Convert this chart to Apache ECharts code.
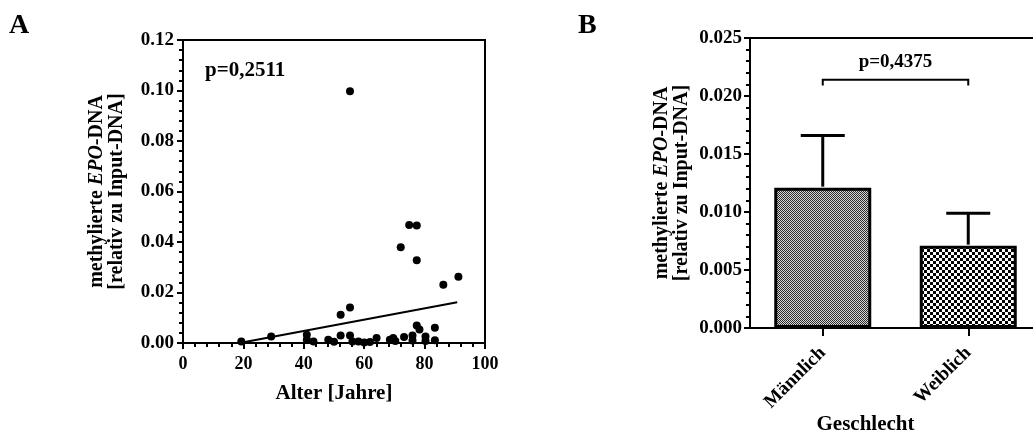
<!DOCTYPE html>
<html>
<head>
<meta charset="utf-8">
<script src="https://cdn.jsdelivr.net/npm/echarts@6/dist/echarts.min.js"></script>
<style>
  html, body { margin: 0; padding: 0; background: #fff; }
  #chart { width: 1033px; height: 441px; }
</style>
</head>
<body>
<div id="chart"></div>
<script>
// Panel A: age vs. methylated EPO-DNA (individual samples)
const ages = [19.3, 29.2, 41.0, 41.0, 43.2, 48.1, 50.0, 52.2, 52.2, 55.3, 55.3, 55.3,
  56.1, 58.1, 60.0, 61.9, 64.1, 68.5, 69.6, 70.3, 72.1, 73.2, 74.9, 76.0, 76.0,
  77.4, 77.4, 77.4, 78.3, 80.3, 80.3, 83.4, 83.4, 86.2, 91.2];
const methylA = [0.0006, 0.0026, 0.0033, 0.0013, 0.0006, 0.0013, 0.0005, 0.0030, 0.0112, 0.0141, 0.0997, 0.0030,
  0.0006, 0.0006, 0.0002, 0.0004, 0.0020, 0.0013, 0.0020, 0.0008, 0.0379, 0.0024, 0.0467, 0.0030, 0.0010,
  0.0465, 0.0328, 0.0069, 0.0053, 0.0026, 0.0008, 0.0060, 0.0011, 0.0231, 0.0262];
// linear regression line, endpoints [age, value]
const fitLine = [[19.6, 0.0002], [90.8, 0.0161]];
const pValueA = 'p=0,2511';

// Panel B: mean ± SEM by sex
const sexes = ['Männlich', 'Weiblich'];
const meanB = [0.0121, 0.0071];
const upperB = [0.0166, 0.0099];
const pValueB = 'p=0,4375';
const bracketB = [0.0214, 0.0209]; // bracket height, leg end
const pLabelB = 0.0229;

const FONT = '"Liberation Serif", "Times New Roman", serif';

function checker(cell, dark, light) {
  const c = document.createElement('canvas');
  c.width = cell * 2; c.height = cell * 2;
  const g = c.getContext('2d');
  g.fillStyle = light; g.fillRect(0, 0, cell * 2, cell * 2);
  g.fillStyle = dark;
  g.fillRect(0, 0, cell, cell);
  g.fillRect(cell, cell, cell, cell);
  return c;
}
const fineFill = { image: checker(1, '#2a2a2a', '#d8d8d8'), repeat: 'repeat' };
const coarseFill = { image: checker(3, '#000000', '#ffffff'), repeat: 'repeat' };

const axisLine = { lineStyle: { color: '#000', width: 2 } };
const labelStyle = { color: '#000', fontFamily: FONT, fontWeight: 'bold', fontSize: 19 };
const nameStyle = { color: '#000', fontFamily: FONT, fontWeight: 'bold', fontSize: 21 };
const yNameStyle = Object.assign({}, nameStyle, {
  fontSize: 20, lineHeight: 20,
  rich: { i: { fontFamily: FONT, fontStyle: 'italic', fontWeight: 'bold', fontSize: 20, color: '#000' } }
});

const chart = echarts.init(document.getElementById('chart'), null, { renderer: 'canvas' });

chart.setOption({
  backgroundColor: '#fff',
  animation: false,
  grid: [
    { left: 183, top: 40, width: 302, height: 303, outerBoundsMode: 'none', containLabel: false,
      show: true, borderColor: '#000', borderWidth: 2, backgroundColor: 'transparent' },
    { left: 750, top: 38, width: 291, height: 290, outerBoundsMode: 'none', containLabel: false,
      show: true, borderColor: '#000', borderWidth: 2, backgroundColor: 'transparent' }
  ],
  xAxis: [
    {
      gridIndex: 0, type: 'value', min: 0, max: 100, interval: 20,
      axisLine: axisLine,
      axisTick: { show: true, length: 6, lineStyle: { color: '#000', width: 2 } },
      minorTick: { show: true, splitNumber: 5, length: 4, lineStyle: { color: '#000', width: 2 } },
      splitLine: { show: false },
      axisLabel: Object.assign({ margin: 12 }, labelStyle, { fontSize: 18 }),
      name: 'Alter [Jahre]', nameLocation: 'middle', nameGap: 40, nameTextStyle: nameStyle
    },
    {
      gridIndex: 1, type: 'category', data: sexes,
      axisLine: axisLine,
      axisTick: { show: true, alignWithLabel: true, length: 8, lineStyle: { color: '#000', width: 2 } },
      axisLabel: Object.assign({ rotate: 45, interval: 0, margin: 22 }, labelStyle, { fontSize: 19 }),
      name: 'Geschlecht', nameLocation: 'middle', nameGap: 86, nameMoveOverlap: false,
      nameTextStyle: Object.assign({}, nameStyle, { align: 'center', padding: [0, 60, 0, 0] })
    }
  ],
  yAxis: [
    {
      gridIndex: 0, type: 'value', min: 0, max: 0.12, interval: 0.02,
      axisLine: axisLine,
      axisTick: { show: true, length: 6, lineStyle: { color: '#000', width: 2 } },
      minorTick: { show: true, splitNumber: 5, length: 4, lineStyle: { color: '#000', width: 2 } },
      splitLine: { show: false },
      axisLabel: Object.assign({ margin: 9, formatter: v => v.toFixed(2) }, labelStyle),
      name: 'methylierte {i|EPO}-DNA\n[relativ zu Input-DNA]',
      nameLocation: 'middle', nameGap: 56, nameRotate: 90,
      nameTextStyle: yNameStyle
    },
    {
      gridIndex: 1, type: 'value', min: 0, max: 0.025, interval: 0.005,
      axisLine: axisLine,
      axisTick: { show: true, length: 6, lineStyle: { color: '#000', width: 2 } },
      minorTick: { show: true, splitNumber: 5, length: 4, lineStyle: { color: '#000', width: 2 } },
      splitLine: { show: false },
      axisLabel: Object.assign({ margin: 8, formatter: v => v.toFixed(3) }, labelStyle),
      name: 'methylierte {i|EPO}-DNA\n[relativ zu Input-DNA]',
      nameLocation: 'middle', nameGap: 58, nameRotate: 90,
      nameTextStyle: yNameStyle
    }
  ],
  graphic: [
    { type: 'text', left: 9, top: 12, style: { text: 'A', font: 'bold 28px ' + FONT, fill: '#000' } },
    { type: 'text', left: 578, top: 12, style: { text: 'B', font: 'bold 28px ' + FONT, fill: '#000' } },
    { type: 'text', left: 205, top: 60, style: { text: pValueA, font: 'bold 21px ' + FONT, fill: '#000' } }
  ],
  series: [
    {
      type: 'scatter', xAxisIndex: 0, yAxisIndex: 0,
      data: ages.map((a, i) => [a, methylA[i]]),
      symbol: 'circle', symbolSize: 8,
      itemStyle: { color: '#000', opacity: 1 }, z: 3
    },
    {
      type: 'line', xAxisIndex: 0, yAxisIndex: 0,
      data: fitLine, symbol: 'none',
      lineStyle: { color: '#000', width: 2 }, z: 2
    },
    {
      type: 'bar', xAxisIndex: 1, yAxisIndex: 1,
      barWidth: 97,
      data: meanB.map((v, i) => ({
        value: v,
        itemStyle: { color: i === 0 ? fineFill : coarseFill, borderColor: '#000', borderWidth: 3 }
      }))
    },
    {
      // SEM error bars above each bar
      type: 'custom', xAxisIndex: 1, yAxisIndex: 1, z: 4,
      data: meanB.map((v, i) => [i, v, upperB[i]]),
      renderItem: (params, api) => {
        const base = api.coord([api.value(0), api.value(1)]);
        const top = api.coord([api.value(0), api.value(2)]);
        const half = 22;
        const st = { stroke: '#000', lineWidth: 3 };
        return {
          type: 'group', children: [
            { type: 'line', shape: { x1: base[0], y1: base[1] - 1, x2: top[0], y2: top[1] }, style: st },
            { type: 'line', shape: { x1: top[0] - half, y1: top[1], x2: top[0] + half, y2: top[1] }, style: st }
          ]
        };
      }
    },
    {
      // significance bracket between the two groups
      type: 'custom', xAxisIndex: 1, yAxisIndex: 1, z: 4,
      data: [[0, 1, bracketB[0], bracketB[1], pLabelB]],
      renderItem: (params, api) => {
        const l = api.coord([api.value(0), api.value(2)]);
        const r = api.coord([api.value(1), api.value(2)]);
        const legL = api.coord([api.value(0), api.value(3)]);
        const txt = api.coord([0, api.value(4)]);
        const st = { stroke: '#000', lineWidth: 2, fill: null };
        return {
          type: 'group', children: [
            { type: 'polyline', shape: { points: [[l[0], legL[1]], l, r, [r[0], legL[1]]] }, style: st },
            { type: 'text', x: (l[0] + r[0]) / 2, y: txt[1],
              style: { text: pValueB, font: 'bold 19px ' + FONT, fill: '#000', align: 'center', verticalAlign: 'middle' } }
          ]
        };
      }
    }
  ]
});
</script>
</body>
</html>
